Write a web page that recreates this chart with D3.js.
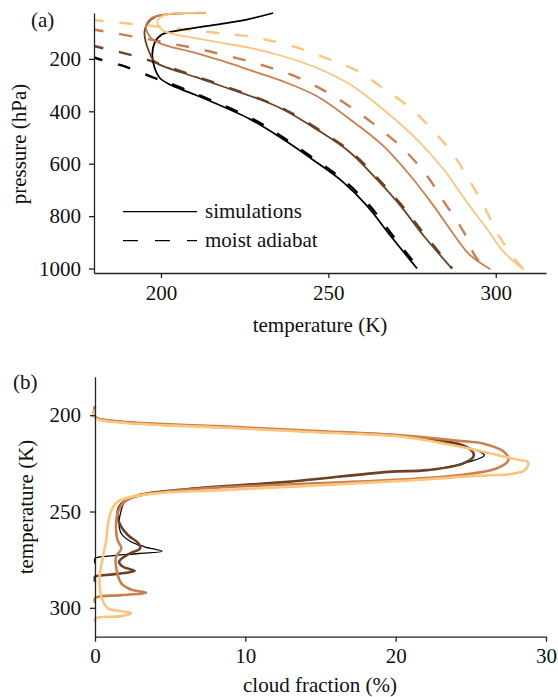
<!DOCTYPE html>
<html>
<head>
<meta charset="utf-8">
<script src="https://cdn.jsdelivr.net/npm/d3@7"></script>
<style>
body { margin: 0; background: #fff; }
.axis path, .axis line { stroke: #222; stroke-width: 1.3; }
</style>
</head>
<body>
<script>
// panel (a): [temperature K, pressure hPa]
var sim1 = [ [233.5,25],[225.6,50],[213.6,75],[203.6,95],[200.1,108],[198.1,139],[197.4,184],[198.1,234],
	[199.6,272],[202.6,298],[208.6,329],[213.6,355],[226.6,430],[236.5,507],[246.5,595],[254.5,671],
	[261.5,760],[268.5,874],[276.5,1000] ];
var sim2 = [ [213.4,25],[204.6,27],[198.6,38],[196.1,63],[195.1,95],[195.4,133],[196.4,171],[197.6,203],
	[199.1,219],[210.5,270],[220.6,315],[229.6,355],[236.5,393],[246.5,469],[256.5,557],[264.5,660],
	[271.5,760],[278.4,874],[286.9,1000] ];
var sim3 = [ [213.4,24],[201.6,30],[197.1,45],[195.6,70],[195.8,95],[197.1,121],[199.6,140],[202.6,153],
	[208.6,171],[218.6,209],[226.6,243],[236.1,284],[246.5,342],[256.5,431],[266.4,532],[274.5,646],
	[281.4,760],[288.4,887],[292.4,950],[298.4,1003] ];
var sim4 = [ [213.4,24],[205,26],[201,34],[199.1,52],[199.4,77],[201.1,95],[204.6,108],[208.6,117],
	[218.6,140],[226.6,158],[236.5,190],[246.5,234],[256.5,298],[266.4,393],[276.4,507],[284.4,621],
	[291.4,747],[297.4,849],[302.4,937],[308.4,1005] ];
var adiabat1 = [ [179,185],[180.2,195],[189.2,229],[198.1,273],[204,300],[214.5,355],[227.5,430],
	[237.3,507],[247.3,595],[255.3,671],[262.3,760],[269.2,874],[277,1000] ];
var adiabat2 = [ [179,148],[180.3,152],[193.6,194],[200,221],[230,355],[237,393],[247,469],[257,557],
	[265,660],[272,760],[279,874],[287,1000] ];
var adiabat3 = [ [179,86],[180.3,89],[193.6,119],[203.6,143],[212.6,166],[222.6,197],[231,227],[240,266],
	[249,323],[257,387],[265,463],[272.5,545],[279.5,647],[285,754],[290.5,862],[294.4,963],[298.4,1003] ];
var adiabat4 = [ [179,50],[180.2,52],[194.1,70],[206,86],[218.6,104],[227.5,116],[231,126],[236,140],
	[241,158],[250.5,203],[259,248],[266.9,317],[275,393],[281.4,476],[286.9,557],[291.9,659],
	[295.9,747],[300.9,874],[306.4,976],[308.4,1003] ];

// panel (b): [cloud fraction %, temperature K]
var cloud1 = [ [0,196],[0,200.9],[1.75,203.5],[8.4,206.1],[15.1,208.7],[20.6,210.9],[24.7,216.4],[25.9,220.8],
	[24.5,225],[22.1,228.5],[19.5,229.4],[12.8,234.6],[6.2,238.3],[2.9,241.5],[2.0,244.5],[1.75,249.3],
	[1.6,256.2],[1.75,261.4],[2.4,265.7],[3.3,268.3],[4.46,270.6],[2.9,271.8],[0.87,273.2],[0,274.4],[0,277] ];
var cloud2 = [ [0,195.5],[0,200.9],[1.75,203.5],[8.4,206.1],[15.1,208.7],[20.6,210.9],[24.7,216.4],[25.2,220.8],
	[24.5,225],[22.1,228.5],[19.5,229.4],[12.8,234.6],[6.2,238.3],[2.9,241.5],[2.0,244.5],[1.6,247.6],
	[1.5,252.8],[1.75,258],[2.2,262.3],[2.9,266.6],[3.0,269.2],[2.3,271.8],[1.6,276.1],[1.86,278.7],
	[2.64,280.8],[1.3,282.5],[0.2,283.4],[0,283.8],[0,286.5] ];
var cloud3 = [ [0,195.5],[0,200.9],[1.75,203.3],[8.4,205.8],[15.1,208.3],[20.6,210.6],[24.2,213.3],[25.8,214.7],
	[27.2,219],[27.5,223.4],[26.7,227.7],[24.3,231.1],[19.8,233.7],[12.5,236],[6.2,238.6],[3.3,241.2],
	[2.2,243.6],[1.86,245.8],[1.5,251],[1.4,259.7],[1.5,264.9],[1.75,269.2],[1.4,273.5],[1.4,278.7],
	[1.75,287.3],[2.4,290.5],[3.4,292.2],[1.75,293.4],[0.2,294.3],[0,295],[0,297.5] ];
var cloud4 = [ [0,197],[0,201.2],[1.75,203.8],[8.4,206.4],[15.1,209],[20.6,211.3],[24.3,216.4],[28.3,223.4],
	[28.8,224.2],[28.6,228.5],[24.3,232],[17.3,235.4],[8.4,238.9],[4.0,240.6],[2.4,242.4],[1.5,245],
	[1.1,249.3],[0.87,256.2],[0.75,264.9],[0.53,273.5],[0.31,283.9],[0.42,294.3],[0.87,300.3],[2.0,302],
	[2.4,302.9],[1.75,304.3],[0.2,305],[0,305.8],[0,307.5] ];

var colors = [ "#000000", "#6b4226", "#cb7f4f", "#fec47c" ];
var pressureTicks = [ 200, 400, 600, 800, 1000 ];
var tempTicksA = [ 200, 250, 300 ];
var tempTicksB = [ 200, 250, 300 ];
var cloudTicks = [ 0, 10, 20, 30 ];

var serif = "'Liberation Serif', 'Times New Roman', Times, 'DejaVu Serif', serif";

var svg = d3.select( "body" ).append( "svg" )
	.attr( "width", 558 )
	.attr( "height", 697 )
	.attr( "font-family", serif );

function label( x, y, txt ) {
	return svg.append( "text" )
		.attr( "x", x ).attr( "y", y )
		.style( "font-family", serif )
		.style( "font-size", "21px" )
		.style( "fill", "#111" )
		.text( txt );
}

function styleAxis( g ) {
	g.selectAll( "text" )
		.style( "font-family", serif )
		.style( "font-size", "21px" )
		.style( "fill", "#111" );
}

// ---- panel (a)
var xA = d3.scaleLinear().domain( [ 180, 315 ] ).range( [ 94, 546 ] );
var yA = d3.scaleLinear().domain( [ 25, 1017 ] ).range( [ 13, 273 ] );

svg.append( "clipPath" ).attr( "id", "clipA" )
	.append( "rect" ).attr( "x", 94 ).attr( "y", 0 ).attr( "width", 460 ).attr( "height", 273 );

var lineA = d3.line()
	.x( d => xA( d[0] ) )
	.y( d => yA( d[1] ) )
	.curve( d3.curveCatmullRom.alpha( 0.5 ) );

var gA = svg.append( "g" ).attr( "clip-path", "url(#clipA)" );

[ adiabat1, adiabat2, adiabat3, adiabat4 ].forEach( function ( d, i ) {
	gA.append( "path" )
		.attr( "fill", "none" )
		.attr( "stroke", colors[i] )
		.attr( "stroke-width", 2.4 )
		.attr( "stroke-dasharray", "13,16" )
		.attr( "d", lineA( d ) );
} );

[ sim1, sim2, sim3, sim4 ].forEach( function ( d, i ) {
	gA.append( "path" )
		.attr( "fill", "none" )
		.attr( "stroke", colors[i] )
		.attr( "stroke-width", 1.8 )
		.attr( "d", lineA( d ) );
} );

svg.append( "g" ).attr( "class", "axis" )
	.attr( "transform", "translate(94,0)" )
	.call( d3.axisLeft( yA ).tickValues( pressureTicks ).tickFormat( d3.format( "d" ) )
		.tickSize( 5 ).tickSizeOuter( 0 ).tickPadding( 8 ) )
	.call( styleAxis );

svg.append( "g" ).attr( "class", "axis" )
	.attr( "transform", "translate(0,273)" )
	.call( d3.axisBottom( xA ).tickValues( tempTicksA ).tickFormat( d3.format( "d" ) )
		.tickSize( 5 ).tickSizeOuter( 0 ).tickPadding( 7 ) )
	.call( styleAxis );

label( 31, 27, "(a)" );
label( 320, 332, "temperature (K)" ).attr( "text-anchor", "middle" );
label( 0, 0, "pressure (hPa)" )
	.attr( "transform", "translate(26,144) rotate(-90)" )
	.attr( "text-anchor", "middle" );

// legend
svg.append( "line" )
	.attr( "x1", 123 ).attr( "x2", 197 ).attr( "y1", 211.7 ).attr( "y2", 211.7 )
	.attr( "stroke", "#000" ).attr( "stroke-width", 1.3 );
svg.append( "line" )
	.attr( "x1", 123 ).attr( "x2", 197 ).attr( "y1", 240.7 ).attr( "y2", 240.7 )
	.attr( "stroke", "#000" ).attr( "stroke-width", 1.3 )
	.attr( "stroke-dasharray", "15,17" );
label( 205, 211.7, "simulations" ).attr( "dy", "0.3em" );
label( 205, 240.7, "moist adiabat" ).attr( "dy", "0.3em" );

// ---- panel (b)
var xB = d3.scaleLinear().domain( [ 0, 30 ] ).range( [ 95, 546 ] );
var yB = d3.scaleLinear().domain( [ 180, 315 ] ).range( [ 376.7, 636.7 ] );

var lineB = d3.line()
	.x( d => xB( d[0] ) )
	.y( d => yB( d[1] ) )
	.curve( d3.curveCatmullRom.alpha( 0.5 ) );

[ cloud1, cloud2, cloud3, cloud4 ].forEach( function ( d, i ) {
	svg.append( "path" )
		.attr( "fill", "none" )
		.attr( "stroke", colors[i] )
		.attr( "stroke-width", i === 0 ? 1.3 : 2.6 )
		.attr( "d", lineB( d ) );
} );

svg.append( "g" ).attr( "class", "axis" )
	.attr( "transform", "translate(95,0)" )
	.call( d3.axisLeft( yB ).tickValues( tempTicksB ).tickFormat( d3.format( "d" ) )
		.tickSize( 5 ).tickSizeOuter( 0 ).tickPadding( 9 ) )
	.call( styleAxis );

svg.append( "g" ).attr( "class", "axis" )
	.attr( "transform", "translate(0,636.7)" )
	.call( d3.axisBottom( xB ).tickValues( cloudTicks ).tickFormat( d3.format( "d" ) )
		.tickSize( 5 ).tickSizeOuter( 0 ).tickPadding( 6 ) )
	.call( styleAxis );

label( 13, 389, "(b)" );
label( 320, 692, "cloud fraction (%)" ).attr( "text-anchor", "middle" );
label( 0, 0, "temperature (K)" )
	.attr( "transform", "translate(33,507) rotate(-90)" )
	.attr( "text-anchor", "middle" );
</script>
</body>
</html>
